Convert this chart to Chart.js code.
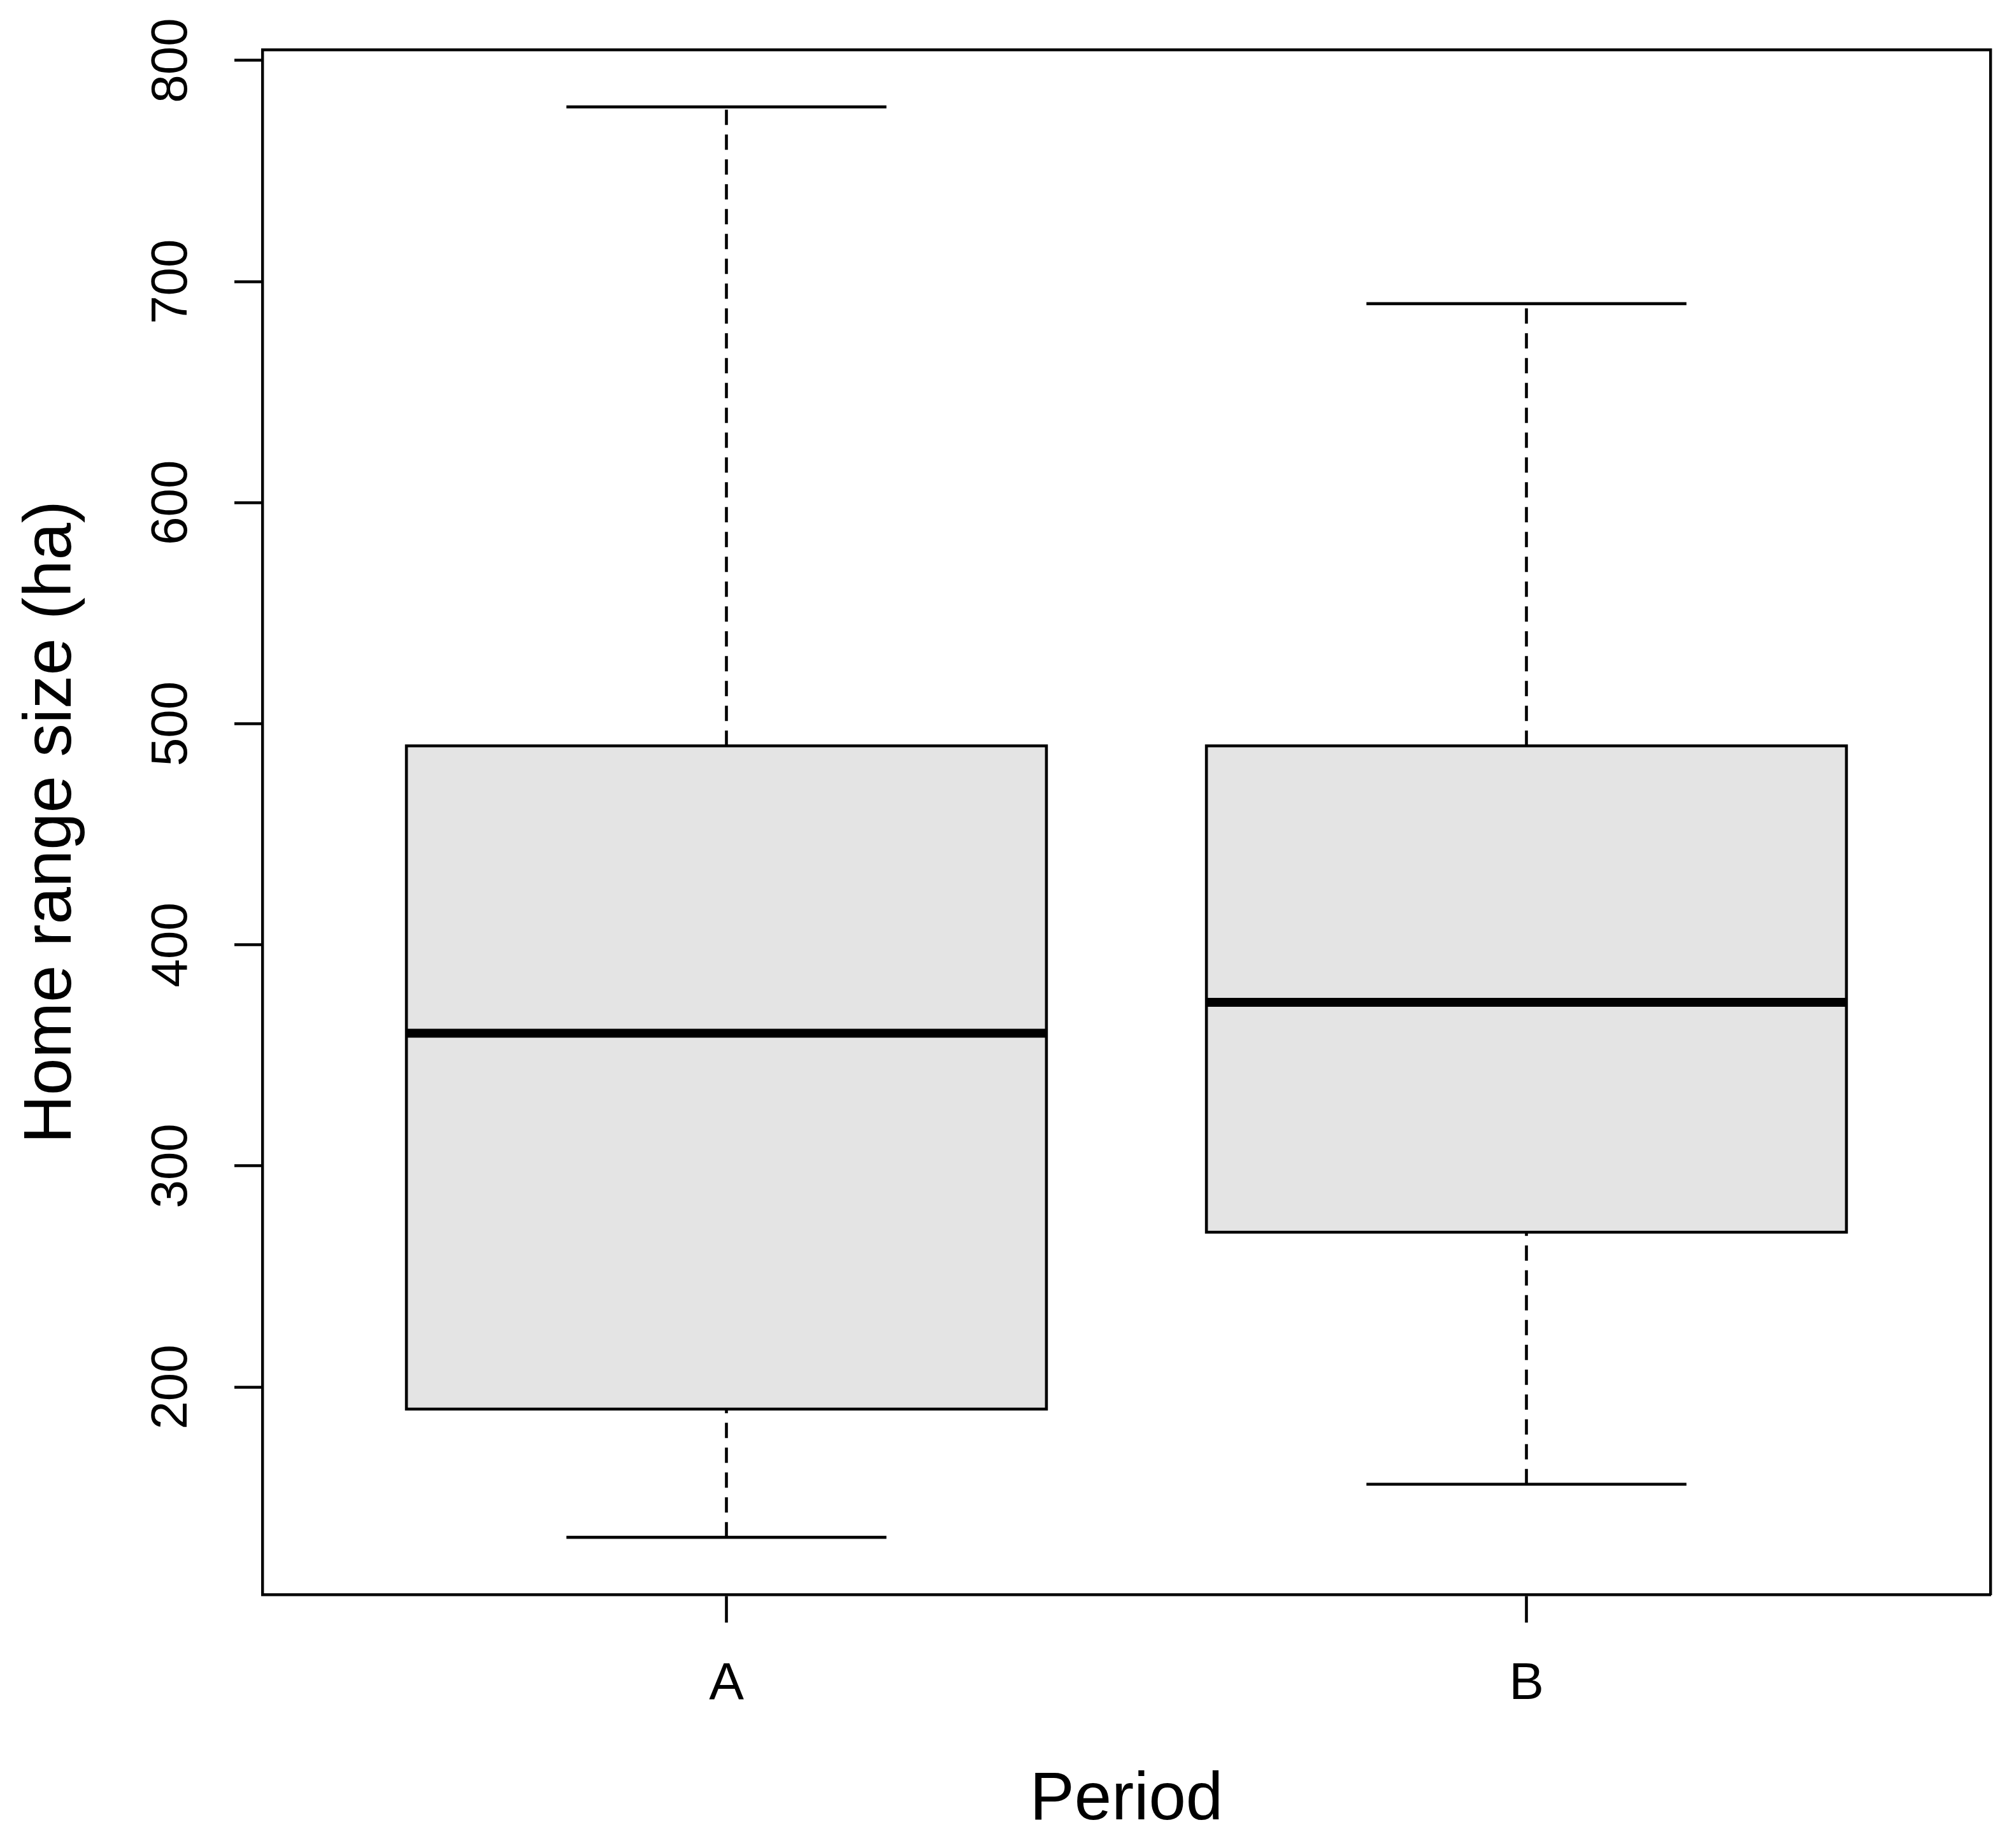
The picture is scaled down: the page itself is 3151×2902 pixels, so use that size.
<!DOCTYPE html>
<html><head><meta charset="utf-8">
<script src="https://cdn.jsdelivr.net/npm/chart.js@4.4.1/dist/chart.umd.min.js"></script>
<style>html,body{margin:0;padding:0;background:#fff;} #wrap{width:3151px;height:2902px;}</style>
</head><body><div id="wrap"><canvas id="c" width="3151" height="2902"></canvas></div>
<script>
const categories = ['A', 'B'];
const whiskerLow = [132, 156];
const q1 = [190, 270];
const median = [360, 374];
const q3 = [490, 490];
const whiskerHigh = [779, 690];
const yTicks = [200, 300, 400, 500, 600, 700, 800];
const xTitle = 'Period';
const yTitle = 'Home range size (ha)';

const FONT = "'Liberation Sans', Arial, sans-serif";
const n = categories.length;
const dataMin = Math.min(...whiskerLow), dataMax = Math.max(...whiskerHigh);
const ext = (dataMax - dataMin) * 0.04;
const yMin = dataMin - ext, yMax = dataMax + ext;
const xMin = 0.5 - 0.04 * n, xMax = n + 0.5 + 0.04 * n;
const halfBox = 0.4, halfCap = 0.2;
const LW = 4.6;

const datasets = [];
const base = {type: 'line', pointRadius: 0, tension: 0, xAxisID: 'x', yAxisID: 'y', borderColor: '#000'};
categories.forEach((c, i) => {
  const x = i + 1;
  datasets.push(Object.assign({}, base, {label: c + ' box fill', order: 20,
    data: [{x: x - halfBox, y: q3[i]}, {x: x + halfBox, y: q3[i]}],
    borderWidth: 0, fill: {value: q1[i]}, backgroundColor: '#e4e4e4'}));
  datasets.push(Object.assign({}, base, {label: c + ' upper whisker', order: 10,
    data: [{x: x, y: q3[i]}, {x: x, y: whiskerHigh[i]}], borderWidth: LW, borderDash: [24, 15], fill: false}));
  datasets.push(Object.assign({}, base, {label: c + ' lower whisker', order: 10,
    data: [{x: x, y: whiskerLow[i]}, {x: x, y: q1[i]}], borderWidth: LW, borderDash: [24, 15], fill: false}));
  datasets.push(Object.assign({}, base, {label: c + ' upper cap', order: 9,
    data: [{x: x - halfCap, y: whiskerHigh[i]}, {x: x + halfCap, y: whiskerHigh[i]}], borderWidth: LW, fill: false}));
  datasets.push(Object.assign({}, base, {label: c + ' lower cap', order: 9,
    data: [{x: x - halfCap, y: whiskerLow[i]}, {x: x + halfCap, y: whiskerLow[i]}], borderWidth: LW, fill: false}));
  datasets.push(Object.assign({}, base, {label: c + ' box outline', order: 5,
    data: [{x: x - halfBox, y: q1[i]}, {x: x + halfBox, y: q1[i]}, {x: x + halfBox, y: q3[i]},
           {x: x - halfBox, y: q3[i]}, {x: x - halfBox, y: q1[i]}],
    borderWidth: LW, fill: false, borderJoinStyle: 'miter', borderCapStyle: 'square'}));
  datasets.push(Object.assign({}, base, {label: c + ' median', order: 1,
    data: [{x: x - halfBox, y: median[i]}, {x: x + halfBox, y: median[i]}], borderWidth: 14, fill: false, borderCapStyle: 'butt'}));
});

Chart.defaults.font.family = FONT;
Chart.defaults.color = '#000';

new Chart(document.getElementById('c'), {
  type: 'line',
  data: {datasets},
  options: {
    responsive: false, animation: false, devicePixelRatio: 1,
    layout: {padding: {left: 0, top: 76, right: 26, bottom: 0}},
    plugins: {legend: {display: false}, tooltip: {enabled: false}},
    scales: {
      x: {
        type: 'linear', position: 'bottom', min: xMin, max: xMax,
        afterBuildTicks: s => { s.ticks = categories.map((c, i) => ({value: i + 1})); },
        afterFit: s => { s.height = 398; },
        ticks: {autoSkip: false, padding: 48, font: {size: 82},
          callback: (v) => categories[Math.round(v) - 1] || ''},
        grid: {drawOnChartArea: false, drawTicks: true, tickLength: 44, tickWidth: LW, tickColor: '#000'},
        border: {display: true, color: '#000', width: 4.4},
        title: {display: true, text: xTitle, font: {size: 105, lineHeight: 1.2}, padding: {top: 0, bottom: 11}}
      },
      y: {
        type: 'linear', position: 'left', min: yMin, max: yMax,
        afterBuildTicks: s => { s.ticks = yTicks.map(v => ({value: v})); },
        afterFit: s => { s.width = 412; },
        ticks: {autoSkip: false, minRotation: 90, maxRotation: 90, crossAlign: 'center', padding: 30, font: {size: 80}},
        grid: {drawOnChartArea: false, drawTicks: true, tickLength: 44, tickWidth: LW, tickColor: '#000'},
        border: {display: true, color: '#000', width: 4.4},
        title: {display: true, text: yTitle, font: {size: 105, lineHeight: 1.2}, padding: {top: 19, bottom: 0}}
      },
      xTop: {
        type: 'linear', position: 'top', min: xMin, max: xMax,
        afterFit: s => { s.height = 0; },
        ticks: {display: false}, grid: {display: false, drawTicks: false},
        border: {display: true, color: '#000', width: 4.4}
      },
      yRight: {
        type: 'linear', position: 'right', min: yMin, max: yMax,
        afterFit: s => { s.width = 0; },
        ticks: {display: false}, grid: {display: false, drawTicks: false},
        border: {display: true, color: '#000', width: 4.4}
      }
    }
  }
});
</script></body></html>
